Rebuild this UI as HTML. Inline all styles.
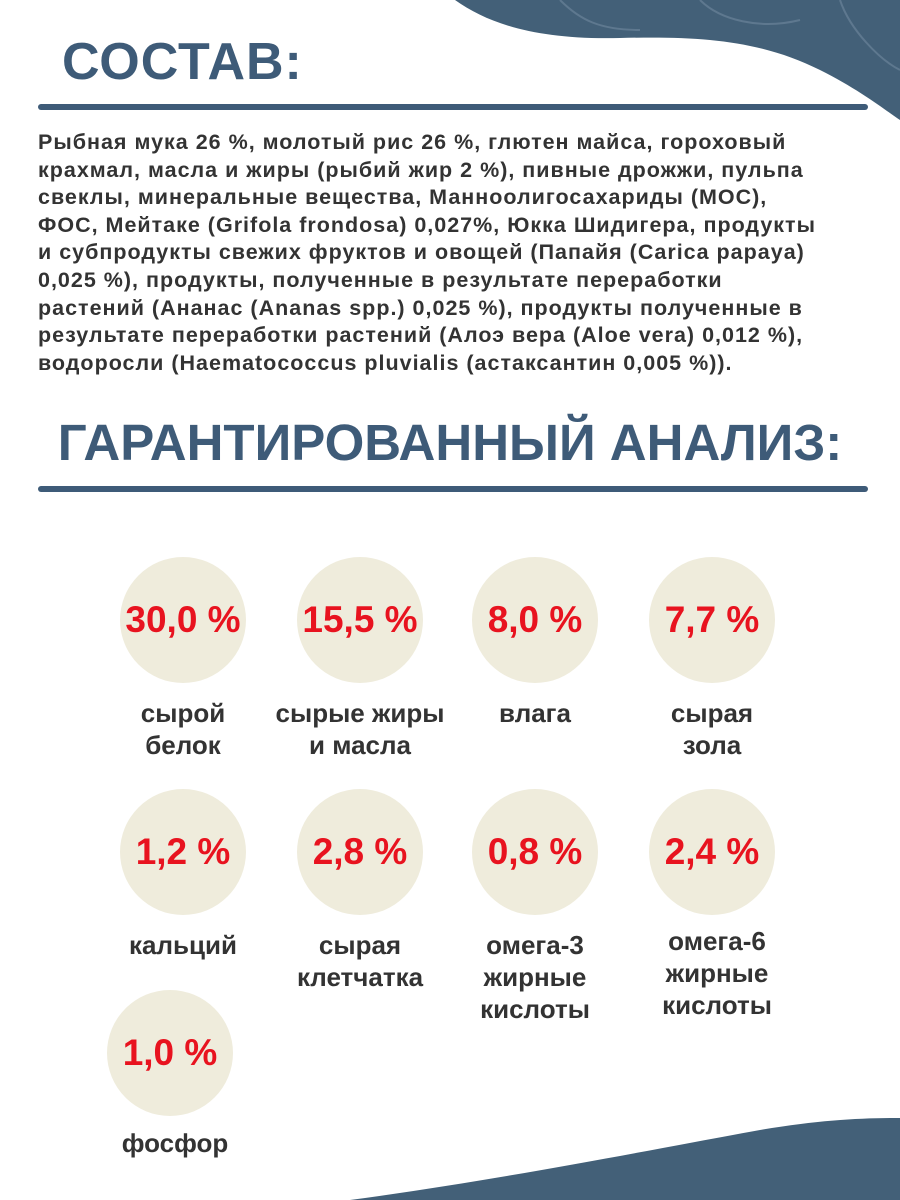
<!DOCTYPE html>
<html><head><meta charset="utf-8"><style>
body{margin:0;width:900px;height:1200px;background:#fff;position:relative;overflow:hidden;font-family:"Liberation Sans",sans-serif}
.a{position:absolute;white-space:nowrap}
h1{position:absolute;margin:0;font-weight:bold;color:#3e5b78;white-space:nowrap}
.bar{position:absolute;left:38px;width:830px;height:6px;border-radius:3px;background:#3e5b78}
.p{position:absolute;left:38px;top:129px;font-weight:bold;font-size:21.5px;letter-spacing:1px;line-height:27.6px;color:#333}
.c{position:absolute;width:126px;height:126px;border-radius:50%;background:#efecdc;display:flex;align-items:center;justify-content:center;color:#e8131f;font-weight:bold;font-size:37px}
.l{position:absolute;width:200px;text-align:center;color:#333;font-size:26px;line-height:32px;font-weight:bold}
</style></head><body>
<svg class="a" style="left:0;top:0" width="900" height="1200">
<path d="M455 0 C490 25 540 40 620 38 C700 36 760 40 820 70 C860 90 885 110 900 120 L900 0Z" fill="#436078"/>
<path d="M350 1200 C500 1180 650 1150 760 1130 C820 1120 860 1118 900 1118 L900 1200Z" fill="#436078"/>
<g fill="none" stroke="#6a8399" stroke-width="2" opacity=".7"><path d="M560 0 C580 20 600 30 640 30"/><path d="M700 0 C720 20 760 30 800 20"/><path d="M840 0 C850 30 880 60 900 70"/></g>
</svg>
<h1 style="left:62px;top:32px;font-size:52px;letter-spacing:1px">СОСТАВ:</h1>
<div class="bar" style="top:104px"></div>
<div class="p">Рыбная мука 26 %, молотый рис 26 %, глютен майса, гороховый<br>крахмал, масла и жиры (рыбий жир 2 %), пивные дрожжи, пульпа<br>свеклы, минеральные вещества, Манноолигосахариды (МОС),<br>ФОС, Мейтаке (Grifola frondosa) 0,027%, Юкка Шидигера, продукты<br>и субпродукты свежих фруктов и овощей (Папайя (Carica papaya)<br>0,025 %), продукты, полученные в результате переработки<br>растений (Ананас (Ananas spp.) 0,025 %), продукты полученные в<br>результате переработки растений (Алоэ вера (Aloe vera) 0,012 %),<br>водоросли (Haematococcus pluvialis (астаксантин 0,005 %)).</div>
<h1 style="left:0;width:900px;text-align:center;top:413px;font-size:51px">ГАРАНТИРОВАННЫЙ АНАЛИЗ:</h1>
<div class="bar" style="top:486px"></div>

<div class="c" style="left:120px;top:557px">30,0 %</div>
<div class="c" style="left:297px;top:557px">15,5 %</div>
<div class="c" style="left:472px;top:557px">8,0 %</div>
<div class="c" style="left:649px;top:557px">7,7 %</div>
<div class="l" style="left:83px;top:697px">сырой<br>белок</div>
<div class="l" style="left:260px;top:697px">сырые жиры<br>и масла</div>
<div class="l" style="left:435px;top:697px">влага</div>
<div class="l" style="left:612px;top:697px">сырая<br>зола</div>

<div class="c" style="left:120px;top:789px">1,2 %</div>
<div class="c" style="left:297px;top:789px">2,8 %</div>
<div class="c" style="left:472px;top:789px">0,8 %</div>
<div class="c" style="left:649px;top:789px">2,4 %</div>
<div class="l" style="left:83px;top:929px">кальций</div>
<div class="l" style="left:260px;top:929px">сырая<br>клетчатка</div>
<div class="l" style="left:435px;top:929px">омега-3<br>жирные<br>кислоты</div>
<div class="l" style="left:617px;top:925px">омега-6<br>жирные<br>кислоты</div>

<div class="c" style="left:107px;top:990px">1,0 %</div>
<div class="l" style="left:75px;top:1127px">фосфор</div>
</body></html>
